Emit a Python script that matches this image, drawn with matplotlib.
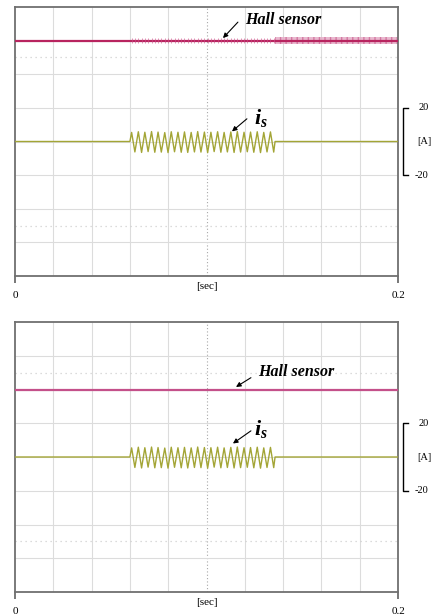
import numpy as np
import matplotlib
matplotlib.use("Agg")
import matplotlib.pyplot as plt
from matplotlib.transforms import blended_transform_factory

plt.rcParams["font.family"] = ["Liberation Serif", "DejaVu Serif"]
plt.rcParams["mathtext.fontset"] = "custom"
plt.rcParams["mathtext.bf"] = "Liberation Serif:bold:italic"
plt.rcParams["mathtext.it"] = "Liberation Serif:bold:italic"

# time axis [sec], current scale [A] (20 A / div)
t_start, t_end = 0.0, 0.2
t_on, t_off = 0.0600, 0.1358

peak_t = [0.0609, 0.0644, 0.0678, 0.0713, 0.0747, 0.0782, 0.0816, 0.0851,
          0.0885, 0.0920, 0.0954, 0.0989, 0.1023, 0.1058, 0.1092, 0.1127,
          0.1161, 0.1196, 0.1230, 0.1265, 0.1299, 0.1334]
peak_v = [5.4, 5.8, 5.5, 5.9, 5.6, 5.3, 5.8, 5.5, 5.7, 5.4, 5.9,
          5.6, 5.5, 5.8, 5.4, 5.7, 5.9, 5.5, 5.6, 5.8, 5.4, 5.7]
trough_t = [0.0626, 0.0661, 0.0695, 0.0730, 0.0764, 0.0799, 0.0833, 0.0868,
            0.0902, 0.0937, 0.0971, 0.1006, 0.1040, 0.1075, 0.1109, 0.1144,
            0.1178, 0.1213, 0.1247, 0.1282, 0.1316, 0.1351]
trough_v = [-6.2, -6.5, -6.0, -6.4, -6.3, -6.6, -6.1, -6.4, -6.5, -6.2, -6.3,
            -6.6, -6.0, -6.4, -6.2, -6.5, -6.3, -6.1, -6.4, -6.6, -6.2, -6.3]

hall_level = [60.0, 40.0]          # top panel, bottom panel
hall_ripple = [1.6, 0.0]           # spikes while i_s oscillates
hall_band_t = [0.1358, 0.2]        # dense noise band (top panel only)
hall_band = [2.2, 0.0]

hall_colors = ["#b8245f", "#c4508a"]
is_color = "#a3a536"


def is_trace():
    t = np.concatenate([[t_start, t_on], np.column_stack([peak_t, trough_t]).ravel(), [t_off, t_end]])
    v = np.concatenate([[0.0, 0.0], np.column_stack([peak_v, trough_v]).ravel(), [0.0, 0.0]])
    return t, v


fig = plt.figure(figsize=(4.36, 6.15), dpi=100)
W, H = 436.0, 615.0
panels = [(7, 276), (322, 592)]
axes = []
for top_px, bot_px in panels:
    ax = fig.add_axes([15 / W, (H - bot_px) / H, 383 / W, (bot_px - top_px) / H])
    axes.append(ax)

annot = [
    dict(hall_xy=(0.1086, 61.5), hall_txt=(0.1164, 71.0), hall_lbl=(0.1203, 72.0),
         is_xy=(0.1133, 6.0), is_txt=(0.1211, 13.5), is_lbl=(0.1248, 14.0)),
    dict(hall_xy=(0.1154, 41.5), hall_txt=(0.1232, 47.0), hall_lbl=(0.1269, 50.4),
         is_xy=(0.1138, 8.0), is_txt=(0.1232, 15.5), is_lbl=(0.1248, 16.4)),
]

for i, ax in enumerate(axes):
    ax.set_xlim(t_start, t_end)
    ax.set_ylim(-80, 80)

    # oscilloscope grid
    for gx in np.arange(1, 10) * 0.02:
        if abs(gx - 0.1) < 1e-9:
            ax.axvline(gx, color="#a8a8a8", lw=0.8, ls=(0, (1, 2)), zorder=0)
        else:
            ax.axvline(gx, color="#dcdcdc", lw=0.8, zorder=0)
    for gy in np.arange(-60, 61, 20):
        ax.axhline(gy, color="#dcdcdc", lw=0.8, zorder=0)
    for gy in (50, -50):
        ax.axhline(gy, color="#d0d0d0", lw=0.9, ls=(0, (1, 3)), zorder=0)

    # Hall sensor trace
    h = hall_level[i]
    ax.plot([t_start, t_end], [h, h], color=hall_colors[i], lw=1.6, zorder=3)
    if hall_ripple[i] > 0:
        ax.vlines(peak_t + trough_t, h - hall_ripple[i], h + hall_ripple[i],
                  color="#cc5088", lw=0.6, alpha=0.7, zorder=3)
    if hall_band[i] > 0:
        ax.fill_between(hall_band_t, h - hall_band[i], h + hall_band[i],
                        color="#e4a8c4", alpha=0.8, lw=0, hatch="|||",
                        edgecolor="#cf6a98", zorder=2)

    # stator current trace
    t, v = is_trace()
    ax.plot(t, v, color=is_color, lw=1.0, zorder=3)

    a = annot[i]
    arrow = dict(arrowstyle="-|>", color="black", lw=0.8, mutation_scale=7,
                 shrinkA=0, shrinkB=0)
    ax.annotate("", xy=a["hall_xy"], xytext=a["hall_txt"], arrowprops=arrow)
    ax.text(*a["hall_lbl"], "Hall sensor", fontsize=11.5, fontweight="bold",
            fontstyle="italic", ha="left", va="center")
    ax.annotate("", xy=a["is_xy"], xytext=a["is_txt"], arrowprops=arrow)
    ax.text(*a["is_lbl"], r"$\mathbf{i_s}$", fontsize=16, ha="left", va="center")

    # frame and time ticks
    for s in ax.spines.values():
        s.set_color("#707070")
        s.set_linewidth(1.3)
    ax.set_yticks([])
    ax.set_xticks([t_start, t_end])
    ax.set_xticklabels(["0", "0.2"], fontsize=8)
    ax.tick_params(axis="x", direction="out", length=5, width=1.2,
                   color="#606060", pad=6)
    ax.text(0.5, -0.04, "[sec]", transform=ax.transAxes, fontsize=8,
            ha="center", va="center")

    # current scale bracket on the right
    tr = blended_transform_factory(ax.transAxes, ax.transData)
    ax.plot([1.026, 1.013, 1.013, 1.026], [20, 20, -20, -20], color="black",
            lw=1.0, transform=tr, clip_on=False)
    ax.text(1.068, 20, "20", transform=tr, fontsize=7.5, ha="center", va="center")
    ax.text(1.068, 0, "[A]", transform=tr, fontsize=7.5, ha="center", va="center")
    ax.text(1.062, -20, "-20", transform=tr, fontsize=7.5, ha="center", va="center")

fig.savefig("out.png", dpi=100, facecolor="white")
